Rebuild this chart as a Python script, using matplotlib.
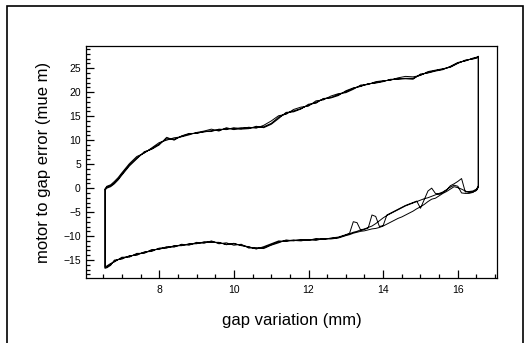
import matplotlib
matplotlib.use("Agg")
import matplotlib.pyplot as plt
from matplotlib.ticker import MultipleLocator
from matplotlib.patches import Rectangle

plt.rcParams['font.family'] = ['Liberation Sans', 'DejaVu Sans']

x_label = "gap variation (mm)"
y_label = "motor to gap error (mue m)"

# upper (increasing gap) branch x grid
x_up = [6.55, 6.6, 6.7, 6.8, 6.9, 7.0, 7.2, 7.4, 7.6, 7.8, 8.0, 8.2, 8.4, 8.6, 8.8,
        9.0, 9.2, 9.4, 9.6, 9.8, 10.0, 10.2, 10.4, 10.6, 10.8, 11.0, 11.2, 11.4, 11.6,
        11.8, 12.0, 12.2, 12.4, 12.6, 12.8, 13.0, 13.2, 13.4, 13.6, 13.8, 14.0, 14.2,
        14.4, 14.6, 14.8, 15.0, 15.2, 15.4, 15.6, 15.8, 16.0, 16.2, 16.4, 16.5, 16.55]

y_up1 = [-0.3, 0.2, 0.5, 1.1, 1.9, 2.9, 4.8, 6.3, 7.4, 8.2, 9.2, 10.3, 10.2, 10.8, 11.3,
         11.5, 11.7, 12.0, 12.1, 12.4, 12.4, 12.6, 12.5, 12.7, 12.8, 13.5, 14.8, 15.6, 16.1,
         16.6, 17.3, 17.9, 18.6, 18.9, 19.5, 20.1, 20.8, 21.3, 21.7, 22.0, 22.3, 22.6,
         22.8, 22.9, 22.9, 23.6, 24.1, 24.5, 24.8, 25.3, 26.1, 26.6, 27.0, 27.2, 27.4]

y_up2 = [-0.1, 0.4, 0.7, 1.4, 2.2, 3.2, 5.1, 6.6, 7.3, 8.4, 9.5, 10.0, 10.5, 10.7, 11.1,
         11.6, 11.9, 12.3, 11.9, 12.6, 12.2, 12.4, 12.7, 12.5, 13.1, 14.0, 15.1, 15.4, 16.4,
         16.9, 17.1, 18.2, 18.4, 19.2, 19.7, 19.9, 20.6, 21.5, 21.6, 22.2, 22.4, 22.5,
         23.0, 23.3, 23.2, 23.5, 24.3, 24.6, 24.9, 25.2, 26.0, 26.7, 26.9, 27.1, 27.3]

y_up3 = [-0.4, 0.0, 0.3, 0.9, 1.7, 2.7, 4.6, 6.1, 7.6, 8.1, 9.0, 10.6, 10.0, 10.9, 11.4,
         11.4, 11.8, 11.8, 12.3, 12.2, 12.6, 12.3, 12.4, 12.9, 12.6, 13.3, 14.5, 15.8, 15.9,
         16.5, 17.5, 17.7, 18.7, 18.8, 19.3, 20.3, 20.9, 21.2, 21.8, 21.9, 22.2, 22.7,
         22.7, 22.8, 22.7, 23.8, 24.0, 24.4, 24.7, 25.4, 26.2, 26.5, 27.1, 27.3, 27.5]

# lower (decreasing gap) branch x grid
x_dn = [16.55, 16.5, 16.4, 16.3, 16.2, 16.1, 16.0, 15.9, 15.8, 15.7, 15.6, 15.5, 15.4,
        15.3, 15.2, 15.1, 15.0, 14.9, 14.8, 14.7, 14.6, 14.5, 14.4, 14.3, 14.2, 14.1,
        14.0, 13.9, 13.8, 13.7, 13.6, 13.5, 13.4, 13.3, 13.2, 13.1, 13.0,
        12.8, 12.6, 12.4, 12.2, 12.0, 11.8, 11.6, 11.4, 11.2, 11.0, 10.8, 10.6, 10.4,
        10.2, 10.0, 9.8, 9.6, 9.4, 9.2, 9.0, 8.8, 8.6, 8.4, 8.2, 8.0, 7.8, 7.6, 7.4,
        7.2, 7.0, 6.8, 6.7, 6.6, 6.55]

y_dn1 = [0.3, -0.4, -0.9, -1.1, -1.1, -1.0, 0.4, 0.6, 0.2, -0.3, -0.8, -1.1, -1.4,
         -1.7, -2.0, -2.2, -2.5, -2.8, -3.1, -3.4, -3.7, -4.1, -4.5, -4.9, -5.3, -5.7,
         -6.2, -6.8, -7.4, -7.9, -8.2, -8.5, -8.7, -9.0, -9.2, -9.5, -9.8,
         -10.3, -10.5, -10.6, -10.7, -10.8, -10.9, -10.8, -11.0, -11.2, -11.8, -12.4, -12.6, -12.3,
         -11.9, -11.6, -11.7, -11.4, -11.2, -11.3, -11.5, -11.7, -11.9, -12.1, -12.4, -12.6, -13.0, -13.4, -13.8,
         -14.2, -14.6, -15.2, -15.9, -16.4, -16.6]

y_dn2 = [0.5, -0.2, -0.6, -0.7, -0.8, 2.0, 1.4, 0.9, 0.5, -0.4, -0.9, -1.3, -1.1,
         0.0, -0.6, -2.4, -4.2, -2.7, -3.0, -3.3, -3.6, -4.0, -4.4, -4.8, -5.2, -5.6,
         -7.8, -8.0, -5.9, -5.6, -8.3, -8.6, -8.8, -7.2, -7.0, -9.4, -9.7,
         -10.2, -10.4, -10.7, -10.5, -10.9, -10.7, -11.0, -10.8, -11.4, -11.9, -12.6, -12.4, -12.5,
         -11.7, -11.9, -11.4, -11.6, -11.0, -11.5, -11.3, -11.9, -11.7, -12.3, -12.2, -12.8, -12.8, -13.6, -13.6,
         -14.4, -14.4, -15.4, -15.7, -16.2, -16.5]

y_dn3 = [0.2, -0.5, -0.8, -0.9, -0.6, -0.2, 0.1, 0.3, -0.2, -0.7, -1.1, -1.6, -2.1,
         -2.3, -2.8, -3.4, -3.9, -4.3, -4.8, -5.2, -5.6, -6.0, -6.3, -6.7, -7.1, -7.5,
         -7.9, -8.2, -8.4, -8.5, -8.7, -8.9, -9.0, -9.2, -9.4, -9.7, -9.9,
         -10.4, -10.6, -10.5, -10.9, -10.7, -11.0, -10.9, -11.1, -11.0, -11.6, -12.2, -12.7, -12.2,
         -12.0, -11.5, -11.8, -11.3, -11.3, -11.2, -11.6, -11.6, -12.0, -12.0, -12.5, -12.5, -13.2, -13.3, -14.0,
         -14.1, -14.8, -15.0, -16.1, -16.6, -16.7]

x_ticks = [8, 10, 12, 14, 16]
y_ticks = [-15, -10, -5, 0, 5, 10, 15, 20, 25]

fig = plt.figure(figsize=(5.31, 3.43), dpi=100)
ax = fig.add_axes([0.1627, 0.1886, 0.936 - 0.1627, 0.8668 - 0.1886])

xs, ys = [], []
for yu, yd in [(y_up1, y_dn1), (y_up2, y_dn2), (y_up3, y_dn3)]:
    xs += x_up + x_dn
    ys += yu + yd
ax.plot(xs, ys, color='black', lw=0.7)

ax.set_xlim(6.05, 17.05)
ax.set_ylim(-18.8, 29.7)
ax.set_xticks(x_ticks)
ax.set_yticks(y_ticks)
ax.xaxis.set_minor_locator(MultipleLocator(0.5))
ax.yaxis.set_minor_locator(MultipleLocator(1))
ax.tick_params(which='both', direction='in', top=False, right=False, width=0.9,
               labelsize=7.5, colors='black')
ax.tick_params(which='major', length=6)
ax.tick_params(which='minor', length=3)
ax.tick_params(axis='y', pad=4)
ax.tick_params(axis='x', pad=5)
for s in ax.spines.values():
    s.set_linewidth(0.9)

ax.set_xlabel(x_label, fontsize=12, labelpad=13)
ax.set_ylabel(y_label, fontsize=12, labelpad=9)

fig.patches.append(Rectangle((7 / 531, -0.05), (523 - 7) / 531, (343 - 6) / 343 + 0.05,
                             transform=fig.transFigure, fill=False, lw=1.2,
                             edgecolor='black'))

fig.savefig("out.png", dpi=100)
